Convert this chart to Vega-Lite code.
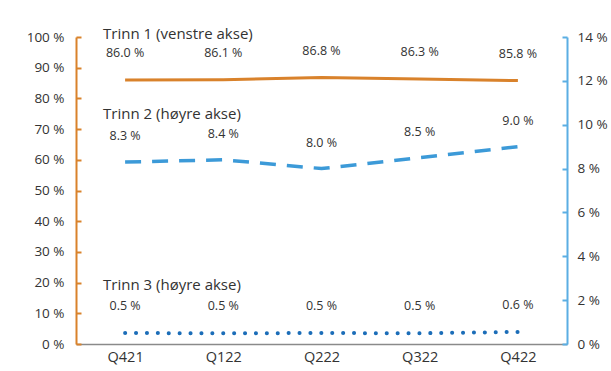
{
  "$schema": "https://vega.github.io/schema/vega-lite/v6.json",
  "width": 491,
  "height": 307,
  "autosize": {"type": "none"},
  "padding": {"left": 76, "top": 37, "right": 44, "bottom": 27},
  "background": "white",
  "config": {
    "view": {"stroke": null},
    "font": "Open Sans",
    "axis": {"grid": false, "labelFont": "Open Sans", "labelFontSize": 13.5, "labelColor": "#333333", "title": null}
  },
  "datasets": {
    "t1": [
      {"q": "Q421", "value": 86.0, "lbl": "86.0 %"},
      {"q": "Q122", "value": 86.1, "lbl": "86.1 %"},
      {"q": "Q222", "value": 86.8, "lbl": "86.8 %"},
      {"q": "Q322", "value": 86.3, "lbl": "86.3 %"},
      {"q": "Q422", "value": 85.8, "lbl": "85.8 %"}
    ],
    "t2": [
      {"q": "Q421", "value": 8.3, "lbl": "8.3 %"},
      {"q": "Q122", "value": 8.4, "lbl": "8.4 %"},
      {"q": "Q222", "value": 8.0, "lbl": "8.0 %"},
      {"q": "Q322", "value": 8.5, "lbl": "8.5 %"},
      {"q": "Q422", "value": 9.0, "lbl": "9.0 %"}
    ],
    "t3": [
      {"q": "Q421", "value": 0.5, "lbl": "0.5 %"},
      {"q": "Q122", "value": 0.49, "lbl": "0.5 %"},
      {"q": "Q222", "value": 0.5, "lbl": "0.5 %"},
      {"q": "Q322", "value": 0.49, "lbl": "0.5 %"},
      {"q": "Q422", "value": 0.55, "lbl": "0.6 %"}
    ],
    "n1": [{"q": "Q421", "value": 86.0, "name": "Trinn 1 (venstre akse)"}],
    "n23": [
      {"q": "Q421", "value": 8.3, "name": "Trinn 2 (høyre akse)"},
      {"q": "Q421", "value": 0.5, "name": "Trinn 3 (høyre akse)"}
    ]
  },
  "encoding": {
    "x": {
      "field": "q",
      "type": "nominal",
      "sort": ["Q421", "Q122", "Q222", "Q322", "Q422"],
      "axis": {"orient": "bottom", "domainColor": "#8a8a8a", "domainWidth": 1.5, "ticks": false, "labelPadding": 6, "labelAngle": 0, "labelFontSize": 14.5}
    }
  },
  "layer": [
    {
      "encoding": {
        "y": {
          "field": "value",
          "type": "quantitative",
          "scale": {"domain": [0, 100], "nice": false, "zero": true},
          "axis": {
            "orient": "left",
            "values": [0, 10, 20, 30, 40, 50, 60, 70, 80, 90, 100],
            "labelExpr": "datum.value + ' %'",
            "domainColor": "#D9822B",
            "domainWidth": 2,
            "tickColor": "#D9822B",
            "tickWidth": 2,
            "tickSize": -5,
            "labelPadding": 17
          }
        }
      },
      "layer": [
        {
          "data": {"name": "t1"},
          "mark": {"type": "line", "color": "#D9822B", "strokeWidth": 3}
        },
        {
          "data": {"name": "t1"},
          "mark": {"type": "text", "dy": -27, "fontSize": 12.5, "color": "#333333", "font": "Open Sans"},
          "encoding": {"text": {"field": "lbl"}}
        },
        {
          "data": {"name": "n1"},
          "mark": {"type": "text", "dy": -46, "dx": -22, "align": "left", "fontSize": 15, "color": "#333333", "font": "Open Sans"},
          "encoding": {"text": {"field": "name"}}
        }
      ]
    },
    {
      "encoding": {
        "y": {
          "field": "value",
          "type": "quantitative",
          "scale": {"domain": [0, 14], "nice": false, "zero": true},
          "axis": {
            "orient": "right",
            "values": [0, 2, 4, 6, 8, 10, 12, 14],
            "labelExpr": "datum.value + ' %'",
            "domainColor": "#5BAEE3",
            "domainWidth": 2,
            "tickColor": "#5BAEE3",
            "tickWidth": 2,
            "tickSize": -5,
            "labelPadding": 15
          }
        }
      },
      "layer": [
        {
          "data": {"name": "t2"},
          "mark": {"type": "line", "color": "#3C9AD8", "strokeWidth": 3.5, "strokeDash": [16, 11]}
        },
        {
          "data": {"name": "t3"},
          "mark": {"type": "line", "color": "#1B6DB8", "strokeWidth": 4, "strokeDash": [0.1, 10.8], "strokeCap": "round"}
        },
        {
          "data": {"name": "t2"},
          "mark": {"type": "text", "dy": -26, "fontSize": 12.5, "color": "#333333", "font": "Open Sans"},
          "encoding": {"text": {"field": "lbl"}}
        },
        {
          "data": {"name": "t3"},
          "mark": {"type": "text", "dy": -27, "fontSize": 12.5, "color": "#333333", "font": "Open Sans"},
          "encoding": {"text": {"field": "lbl"}}
        },
        {
          "data": {"name": "n23"},
          "mark": {"type": "text", "dy": -48, "dx": -22, "align": "left", "fontSize": 15, "color": "#333333", "font": "Open Sans"},
          "encoding": {"text": {"field": "name"}}
        }
      ]
    }
  ],
  "resolve": {"scale": {"y": "independent"}}
}
